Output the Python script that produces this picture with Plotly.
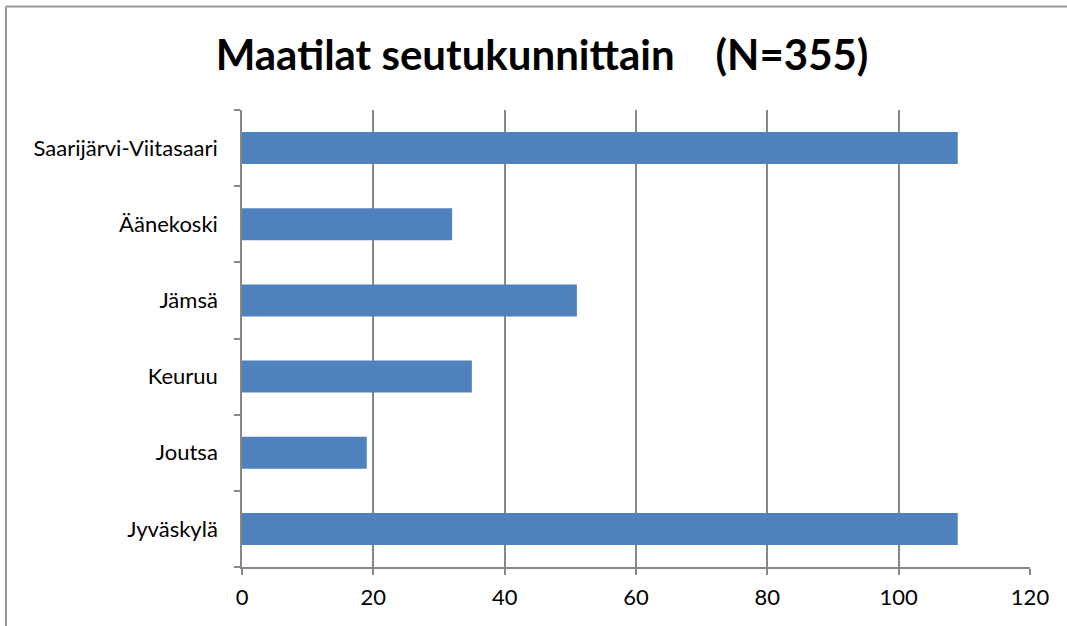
import plotly.graph_objects as go

categories = ["Jyväskylä", "Joutsa", "Keuruu", "Jämsä", "Äänekoski", "Saarijärvi-Viitasaari"]
values = [109, 19, 35, 51, 32, 109]
x_ticks = [0, 20, 40, 60, 80, 100, 120]
title_text = "Maatilat seutukunnittain\u00a0\u00a0\u00a0\u00a0(N=355)"

font_family = "Lato, 'Open Sans', sans-serif"
gray = "#878787"

fig = go.Figure(go.Bar(
    x=values, y=categories, orientation="h",
    marker=dict(color="#4F81BD", line=dict(width=0)),
))

fig.update_layout(
    width=1067, height=626,
    margin=dict(l=242, r=37, t=110, b=59),
    paper_bgcolor="white", plot_bgcolor="white",
    bargap=0.58,
    showlegend=False,
    title=dict(text="<b>" + title_text + "</b>", x=0.508, xanchor="center",
               y=0.912, yanchor="middle",
               font=dict(family=font_family, size=42, color="black")),
    font=dict(family=font_family, size=22, color="black"),
    xaxis=dict(range=[0, 120], tickvals=x_ticks, showgrid=True, gridcolor=gray,
               gridwidth=1.5, showline=True, linecolor=gray, linewidth=1.5,
               ticks="outside", ticklen=6, tickcolor=gray, tickwidth=1.5, zeroline=False,
               tickfont=dict(size=22), ticklabelstandoff=4),
    yaxis=dict(type="category", showline=True, linecolor=gray, linewidth=1.5,
               ticks="outside", ticklen=6, tickcolor=gray, tickwidth=1.5, tickson="boundaries",
               showgrid=False, tickfont=dict(size=22), ticklabelstandoff=18),
    shapes=[
        dict(type="line", xref="paper", yref="paper", x0=-0.2995, x1=-0.2995, y0=-0.2, y1=1.2265,
             line=dict(color="#999999", width=2), layer="below"),
        dict(type="line", xref="paper", yref="paper", x0=-0.2995, x1=1.047, y0=1.2265, y1=1.2265,
             line=dict(color="#999999", width=2), layer="below"),
    ],
)

fig.write_html("out.html", config={"displayModeBar": False},
               post_script="document.body.style.margin='0';document.body.style.padding='0';"
                           "document.body.style.overflow='hidden';"
                           "document.documentElement.style.overflow='hidden';")
